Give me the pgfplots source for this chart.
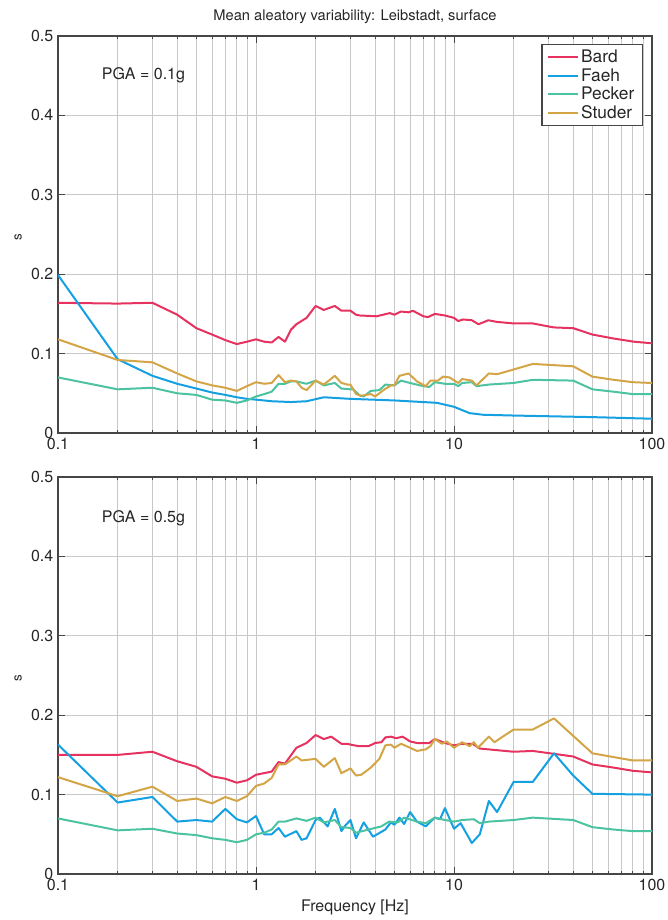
\documentclass[border=0pt]{standalone}
\usepackage{fontspec}
\setmainfont{TeX Gyre Heros}
\usepackage{pgfplots}
\pgfplotsset{compat=1.18}
\definecolor{bard}{RGB}{230,50,95}
\definecolor{faeh}{RGB}{20,160,225}
\definecolor{pecker}{RGB}{75,195,160}
\definecolor{studer}{RGB}{212,165,70}
\definecolor{txt}{RGB}{38,38,38}
\definecolor{axc}{RGB}{70,70,70}
\definecolor{gridc}{RGB}{200,200,200}
\begin{document}
\begin{tikzpicture}
\path[use as bounding box] (0pt,0pt) rectangle (500.25pt,-690pt);
\begin{axis}[
    scale only axis, width=445.5pt, height=297.75pt,
    xmode=log, xmin=0.1, xmax=100, ymin=0, ymax=0.5,
    xtick={0.1,1,10,100}, xticklabels={0.1,1,10,100},
    ytick={0,0.1,0.2,0.3,0.4,0.5}, yticklabels={0,0.1,0.2,0.3,0.4,0.5},
    minor xtick={0.2,0.3,0.4,0.5,0.6,0.7,0.8,0.9,2,3,4,5,6,7,8,9,20,30,40,50,60,70,80,90},
    xmajorgrids, xminorgrids, ymajorgrids,
    grid style={gridc, line width=0.6pt},
    minor grid style={gridc, line width=0.6pt},
    tick align=inside, tick pos=both,
    major tick length=5pt, minor tick length=2.5pt,
    every tick/.style={axc, line width=0.6pt},
    axis line style={axc, line width=1pt},
    ticklabel style={font=\fontsize{12}{14}\selectfont, text=txt},
    ylabel={s}, ylabel style={font=\fontsize{10}{12}\selectfont, text=txt, xshift=-2pt},
    every axis plot/.append style={line width=1.5pt, line join=round},
  at={(43.5pt,-324.75pt)}, anchor=south west,
  title={Mean aleatory variability: Leibstadt, surface},
  title style={font=\fontsize{11}{13}\selectfont, text=txt},
  legend style={at={(1,1)}, anchor=north east, xshift=-6.75pt, yshift=-6pt, draw=axc, line width=1pt, font=\fontsize{13}{14}\selectfont, text=txt, inner xsep=4pt, inner ysep=2pt, row sep=-1.2pt},
  legend cell align=left,
  legend image code/.code={\draw[#1, line width=1.5pt] (0pt,0pt) -- (22pt,0pt);},
]
\addplot[bard] coordinates {
(0.1,0.164)(0.2,0.163)(0.3,0.164)(0.4,0.149)(0.5,0.132)(0.6,0.124)(0.7,0.117)(0.8,0.112)(0.9,0.115)(1.0,0.118)
(1.1,0.115)(1.2,0.114)(1.3,0.121)(1.4,0.115)(1.5,0.130)(1.6,0.137)(1.8,0.145)(2.0,0.160)(2.2,0.155)(2.5,0.160)
(2.7,0.154)(3.0,0.154)(3.2,0.149)(3.35,0.148)(4.06,0.147)(4.74,0.151)(5.0,0.149)(5.4,0.153)(5.9,0.152)(6.2,0.154)
(7.0,0.147)(7.4,0.146)(8.0,0.150)(9.0,0.148)(10,0.145)(10.5,0.141)(11.1,0.143)(12.3,0.142)(13.3,0.137)(14.9,0.142)
(16.4,0.140)(20,0.138)(25,0.138)(31.8,0.133)(40,0.132)(50,0.124)(64,0.119)(81,0.115)(100,0.113)};
\addlegendentry{Bard}
\addplot[faeh] coordinates {
(0.1,0.199)(0.2,0.093)(0.3,0.072)(0.4,0.062)(0.5,0.056)(0.6,0.051)(0.7,0.048)(0.8,0.045)(0.9,0.043)(1,0.042)
(1.2,0.040)(1.5,0.039)(1.8,0.040)(2.2,0.045)(3,0.043)(5,0.041)(8.2,0.038)(10,0.033)(12,0.025)(14,0.023)
(20,0.022)(50,0.020)(100,0.018)};
\addlegendentry{Faeh}
\addplot[pecker] coordinates {
(0.1,0.070)(0.2,0.055)(0.3,0.057)(0.4,0.050)(0.5,0.048)(0.6,0.042)(0.7,0.041)(0.8,0.038)(0.9,0.041)(1.0,0.046)
(1.1,0.049)(1.2,0.052)(1.3,0.062)(1.4,0.062)(1.5,0.065)(1.6,0.065)(1.8,0.062)(2.0,0.066)(2.2,0.060)(2.5,0.063)
(2.7,0.056)(3.0,0.055)(3.1,0.055)(3.35,0.047)(3.5,0.046)(3.8,0.053)(4.2,0.054)(4.5,0.061)(5.0,0.060)(5.4,0.066)
(6.0,0.063)(7.0,0.059)(7.5,0.058)(8.0,0.064)(9,0.062)(10,0.062)(10.5,0.059)(11,0.063)(12.3,0.064)(13,0.059)
(15,0.061)(20,0.063)(25,0.067)(40,0.066)(50,0.055)(64,0.052)(80,0.049)(100,0.049)};
\addlegendentry{Pecker}
\addplot[studer] coordinates {
(0.1,0.118)(0.2,0.092)(0.3,0.089)(0.4,0.075)(0.5,0.065)(0.6,0.060)(0.7,0.057)(0.8,0.053)(0.9,0.059)(1.0,0.064)
(1.1,0.062)(1.2,0.063)(1.3,0.073)(1.4,0.064)(1.5,0.066)(1.6,0.065)(1.7,0.057)(1.8,0.054)(2.0,0.066)(2.2,0.061)
(2.5,0.072)(2.7,0.063)(2.9,0.061)(3.0,0.061)(3.2,0.049)(3.4,0.047)(3.8,0.049)(4.0,0.046)(4.4,0.054)(4.8,0.060)
(5.0,0.060)(5.3,0.072)(5.9,0.075)(6.5,0.065)(7.2,0.059)(7.6,0.066)(8.3,0.066)(8.8,0.071)(9.5,0.070)(10.5,0.063)
(11,0.068)(12.3,0.066)(13,0.060)(15,0.075)(16.5,0.074)(20,0.080)(25,0.087)(40,0.084)(50,0.071)(64,0.067)
(80,0.064)(100,0.063)};
\addlegendentry{Studer}
\node[anchor=west, font=\fontsize{12}{14}\selectfont, text=txt] at (rel axis cs:0.066,0.9) {PGA = 0.1g};
\end{axis}
\begin{axis}[
    scale only axis, width=445.5pt, height=297.75pt,
    xmode=log, xmin=0.1, xmax=100, ymin=0, ymax=0.5,
    xtick={0.1,1,10,100}, xticklabels={0.1,1,10,100},
    ytick={0,0.1,0.2,0.3,0.4,0.5}, yticklabels={0,0.1,0.2,0.3,0.4,0.5},
    minor xtick={0.2,0.3,0.4,0.5,0.6,0.7,0.8,0.9,2,3,4,5,6,7,8,9,20,30,40,50,60,70,80,90},
    xmajorgrids, xminorgrids, ymajorgrids,
    grid style={gridc, line width=0.6pt},
    minor grid style={gridc, line width=0.6pt},
    tick align=inside, tick pos=both,
    major tick length=5pt, minor tick length=2.5pt,
    every tick/.style={axc, line width=0.6pt},
    axis line style={axc, line width=1pt},
    ticklabel style={font=\fontsize{12}{14}\selectfont, text=txt},
    ylabel={s}, ylabel style={font=\fontsize{10}{12}\selectfont, text=txt, xshift=-2pt},
    every axis plot/.append style={line width=1.5pt, line join=round},
  at={(43.5pt,-655.5pt)}, anchor=south west,
  xlabel={Frequency [Hz]},
  xlabel style={font=\fontsize{12}{14}\selectfont, text=txt},
]
\addplot[bard] coordinates {
(0.1,0.150)(0.2,0.150)(0.3,0.154)(0.4,0.142)(0.5,0.135)(0.6,0.123)(0.7,0.120)(0.8,0.115)(0.9,0.118)(1.0,0.125)
(1.2,0.129)(1.3,0.141)(1.4,0.139)(1.6,0.159)(1.8,0.165)(2.0,0.175)(2.2,0.170)(2.4,0.173)(2.7,0.164)(2.9,0.164)
(3.0,0.163)(3.3,0.161)(3.7,0.161)(4.0,0.165)(4.3,0.166)(4.5,0.172)(4.8,0.173)(5.1,0.171)(5.5,0.173)(6.0,0.167)
(6.5,0.165)(7.5,0.165)(8,0.170)(9,0.165)(10,0.162)(11,0.164)(12.4,0.164)(13.5,0.158)(20,0.154)(25,0.155)
(40,0.148)(50,0.138)(64,0.134)(80,0.130)(100,0.128)};
\addplot[faeh] coordinates {
(0.1,0.163)(0.2,0.090)(0.3,0.097)(0.4,0.066)(0.5,0.068)(0.6,0.066)(0.7,0.082)(0.8,0.069)(0.9,0.065)(1.0,0.073)
(1.1,0.050)(1.2,0.050)(1.3,0.058)(1.4,0.047)(1.6,0.054)(1.7,0.043)(1.8,0.045)(2.0,0.068)(2.1,0.071)(2.3,0.060)
(2.5,0.082)(2.7,0.054)(2.8,0.060)(3.0,0.068)(3.2,0.045)(3.5,0.065)(3.9,0.047)(4.5,0.056)(4.8,0.065)(5.0,0.062)
(5.3,0.071)(5.6,0.063)(6.0,0.078)(6.5,0.066)(7.2,0.060)(8.0,0.071)(8.5,0.069)(9.0,0.083)(10,0.057)(10.8,0.064)
(12.3,0.039)(13.5,0.050)(15,0.092)(16.5,0.078)(20,0.116)(25,0.116)(32,0.152)(40,0.124)(50,0.101)(100,0.100)};
\addplot[pecker] coordinates {
(0.1,0.070)(0.2,0.055)(0.3,0.057)(0.4,0.051)(0.5,0.049)(0.6,0.045)(0.7,0.043)(0.8,0.040)(0.9,0.043)(1.0,0.050)
(1.1,0.052)(1.2,0.056)(1.3,0.066)(1.4,0.066)(1.6,0.070)(1.8,0.067)(2.0,0.071)(2.2,0.065)(2.5,0.068)(2.7,0.059)
(3.0,0.058)(3.2,0.052)(3.7,0.056)(4.3,0.060)(4.7,0.066)(5.2,0.065)(5.6,0.071)(6.5,0.066)(7.2,0.064)(8.0,0.071)
(9,0.068)(10,0.066)(11,0.068)(12.6,0.069)(13.5,0.064)(15,0.066)(20,0.068)(25,0.071)(40,0.068)(50,0.059)
(64,0.056)(80,0.054)(100,0.054)};
\addplot[studer] coordinates {
(0.1,0.122)(0.2,0.098)(0.3,0.110)(0.4,0.092)(0.5,0.095)(0.6,0.089)(0.7,0.097)(0.8,0.092)(0.9,0.098)(1.0,0.111)
(1.1,0.114)(1.2,0.121)(1.3,0.138)(1.4,0.138)(1.6,0.148)(1.7,0.143)(2.0,0.145)(2.2,0.135)(2.5,0.146)(2.7,0.127)
(2.9,0.131)(3.0,0.133)(3.2,0.124)(3.4,0.125)(3.8,0.134)(4.2,0.145)(4.5,0.162)(4.8,0.163)(5.0,0.159)(5.4,0.164)
(6.0,0.159)(6.5,0.155)(7.2,0.157)(7.6,0.161)(8.0,0.170)(8.7,0.164)(9.2,0.167)(10,0.159)(11,0.166)(12,0.161)
(12.6,0.166)(13.2,0.159)(15,0.173)(16,0.166)(20,0.182)(25,0.182)(32,0.196)(50,0.152)(80,0.143)(100,0.143)};
\node[anchor=west, font=\fontsize{12}{14}\selectfont, text=txt] at (rel axis cs:0.066,0.897) {PGA = 0.5g};
\end{axis}
\end{tikzpicture}
\end{document}
